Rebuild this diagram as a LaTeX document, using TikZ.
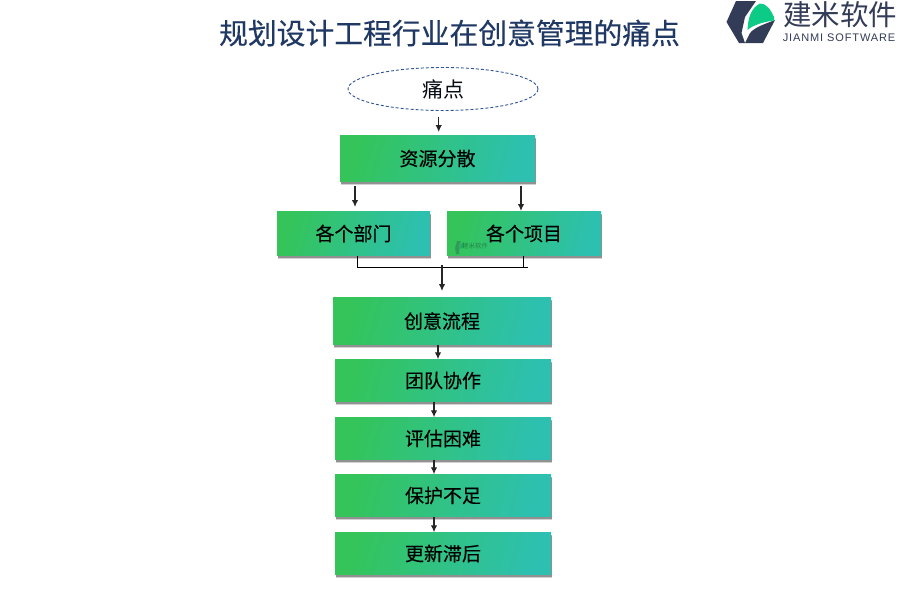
\documentclass[tikz,border=0pt]{standalone}
\usepackage{fontspec}
\setmainfont{Noto Sans CJK SC}
\newfontfamily\boldcjk[FakeBold=0.35]{Noto Sans CJK SC}
\newfontfamily\latinfont[LetterSpace=8]{Liberation Sans}
\usetikzlibrary{shapes.geometric,arrows.meta,shadows}
\definecolor{gradA}{HTML}{34C45A}
\definecolor{gradB}{HTML}{2DC0B0}
\definecolor{navy}{HTML}{1F3864}
\definecolor{logodark}{HTML}{333C57}
\definecolor{logogreen}{HTML}{0CCB87}
\definecolor{ringblue}{HTML}{2F5597}
\tikzset{
 x=1pt,y=-1pt,
 box/.style={rectangle,inner sep=0pt,minimum width=#1,
   preaction={fill=black,opacity=.18,transform canvas={xshift=1pt,yshift=-3pt}},
   preaction={fill=black,opacity=.3,transform canvas={xshift=.7pt,yshift=-2pt}},
   left color=gradA,right color=gradB,shading angle=75,
   font=\boldcjk\fontsize{19pt}{19pt}\selectfont,text=black},
 arrow/.style={draw=black!85,line width=1.3pt,-{Latex[length=7pt,width=6.5pt]}},
 joint/.style={draw=black,line width=1pt},
}
\begin{document}
\begin{tikzpicture}
\useasboundingbox (0,0) rectangle (900,600);
\fill[white] (0,0) rectangle (900,600);
\node (title) at (449.5,33) [font=\boldcjk\fontsize{28.8pt}{29pt}\selectfont,text=navy] {规划设计工程行业在创意管理的痛点};

% logo
\fill[logodark] (736,1) -- (756,1) -- (745,17) -- (741.5,33) -- (745,43) -- (739,43) -- (726.5,22) -- cycle;
\fill[logodark] (775,20) -- (763,43) -- (745,43) -- (750,33) .. controls (755,27) and (765,24) .. (775,20) -- cycle;
\fill[logogreen] (747.5,30) .. controls (748,18) and (751,8) .. (760,3.5) .. controls (766,3) and (771,10) .. (774,17) -- (774,20.5) .. controls (763,22) and (753,25) .. (747.5,30) -- cycle;
\node (brand) at (840,15) [font=\fontsize{28.5pt}{29pt}\selectfont,text=logodark] {建米软件};
\node (brandlat) at (839,38) [font=\latinfont\fontsize{11pt}{11pt}\selectfont,text=logodark] {JIANMI SOFTWARE};

% nodes
\node (pain) at (443,89) [ellipse,draw=ringblue,densely dashed,line width=.9pt,minimum width=190pt,minimum height=43pt,inner sep=0pt,font=\fontsize{21pt}{21pt}\selectfont,text=black!80!navy] {痛点};
\node (scatter) at (437.5,158.5) [box=195pt,minimum height=46pt] {资源分散};
\node (dept) at (353.5,233.5) [box=153pt,minimum height=44pt] {各个部门};
\node (proj) at (524,233.5) [box=154pt,minimum height=44pt] {各个项目};
\node (flow) at (442,321) [box=218pt,minimum height=47pt] {创意流程};
\node (team) at (443,380.5) [box=216pt,minimum height=42pt] {团队协作};
\node (eval) at (443,438.5) [box=216pt,minimum height=42pt] {评估困难};
\node (prot) at (443,495.5) [box=216pt,minimum height=42pt] {保护不足};
\node (upd) at (443,553.5) [box=216pt,minimum height=42pt] {更新滞后};

% watermark
\fill[logodark,opacity=.3] (457,241) -- (461,241) -- (459,246) -- (459,254) -- (456,254) -- (455,248) -- cycle;
\fill[logogreen!70!black,opacity=.35] (459,249) .. controls (460,244) and (462,242) .. (464,242) -- (464,247) -- cycle;
\node (mark) at (475,246) [font=\fontsize{6.5pt}{7pt}\selectfont,text=black,opacity=.3,inner sep=0pt] {建米软件};

% free ends
\coordinate (a1s) at (438.7,117);
\coordinate (a1e) at (438.7,132);
\coordinate (a2s) at (355,186);
\coordinate (a2e) at (355,207);
\coordinate (a3s) at (521,186);
\coordinate (a3e) at (521,211);
\coordinate (jl) at (357.5,267);
\coordinate (jr) at (528,267);
\coordinate (jp) at (523,267);
\coordinate (a4s) at (442,265);
\coordinate (a4e) at (442,291);

\draw[arrow] (a1s) -- (a1e);
\draw[arrow] (a2s) -- (a2e);
\draw[arrow] (a3s) -- (a3e);
\draw[joint] (dept.south -| jl) -- (jl) -- (jr);
\draw[joint] (proj.south -| jp) -- (jp);
\draw[arrow] (a4s) -- (a4e);
\coordinate (x1) at (438,0);
\coordinate (x2) at (434,0);
\draw[arrow] (flow.south -| x1) -- (team.north -| x1);
\draw[arrow] (team.south -| x2) -- (eval.north -| x2);
\draw[arrow] (eval.south -| x2) -- (prot.north -| x2);
\draw[arrow] (prot.south -| x2) -- (upd.north -| x2);
\end{tikzpicture}
\end{document}
